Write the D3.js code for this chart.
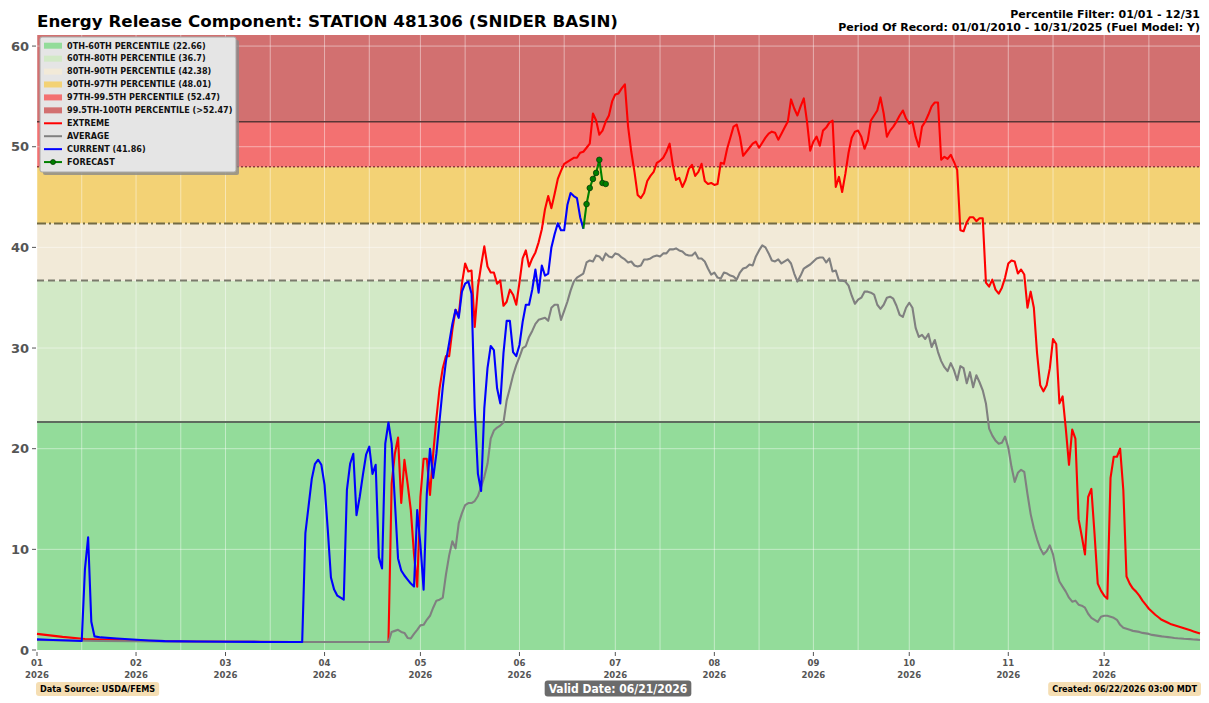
<!DOCTYPE html>
<html>
<head>
<meta charset="utf-8">
<script src="https://cdn.jsdelivr.net/npm/d3@7"></script>
<style>
  html, body { margin: 0; padding: 0; background: #ffffff; }
  svg { display: block; font-family: "DejaVu Sans", sans-serif; }
</style>
</head>
<body>
<svg id="chart" width="1209" height="703"></svg>
<script>
// ---------------- DATA ----------------
const titleText = "Energy Release Component: STATION 481306 (SNIDER BASIN)";
const filterText = "Percentile Filter: 01/01 - 12/31";
const recordText = "Period Of Record: 01/01/2010 - 10/31/2025 (Fuel Model: Y)";
const sourceText = "Data Source: USDA/FEMS";
const validText = "Valid Date: 06/21/2026";
const createdText = "Created: 06/22/2026 03:00 MDT";

const yTicks = [0, 10, 20, 30, 40, 50, 60];
const monthLabels = ["01", "02", "03", "04", "05", "06", "07", "08", "09", "10", "11", "12"];
const yearLabel = "2026";

// percentile thresholds (band upper bounds) and band labels
const percentileBreaks = [22.66, 36.7, 42.38, 48.01, 52.47];
const bandLabels = [
  "0TH-60TH PERCENTILE (22.66)",
  "60TH-80TH PERCENTILE (36.7)",
  "80TH-90TH PERCENTILE (42.38)",
  "90TH-97TH PERCENTILE (48.01)",
  "97TH-99.5TH PERCENTILE (52.47)",
  "99.5TH-100TH PERCENTILE (>52.47)"
];
const lineLabels = ["EXTREME", "AVERAGE", "CURRENT (41.86)", "FORECAST"];

// day offsets from 01/01/2026
const extremeDays = [0, 8, 15, 30, 50, 80, ...d3.range(110, 365)];
const extremeValues = [
  1.6, 1.3, 1.1, 0.95, 0.85, 0.8,
  0.8, 16.5, 19.5, 21.1, 14.6, 18.9, 16.5, 13.9, 9.5, 6.3,
  15.2, 19.0, 19.0, 15.4, 19.5, 23.0, 26.0, 28.0, 29.2, 29.2,
  31.8, 33.8, 33.2, 36.4, 38.4, 37.6, 37.7, 32.1, 36.1, 38.2,
  40.1, 38.1, 37.5, 37.5, 36.4, 36.7, 34.2, 34.6, 35.8, 35.3,
  34.3, 36.5, 38.9, 39.7, 38.1, 38.9, 39.5, 40.5, 41.8, 43.8,
  45.1, 43.9, 45.3, 46.8, 47.6, 48.3, 48.5, 48.7, 48.9, 48.9,
  49.4, 49.5, 49.9, 50.3, 53.3, 52.6, 51.2, 51.6, 52.5, 53.1,
  54.5, 55.2, 55.3, 55.8, 56.2, 52.0, 49.5, 47.5, 45.2, 44.9,
  45.4, 46.6, 47.1, 47.5, 48.4, 48.6, 48.9, 49.5, 50.3, 48.2,
  46.7, 46.9, 46.0, 46.7, 47.8, 48.2, 47.1, 47.5, 48.3, 46.6,
  46.3, 46.4, 46.2, 46.3, 48.4, 48.3, 49.8, 50.9, 52.0, 52.2,
  51.0, 49.1, 49.5, 49.9, 50.3, 50.5, 49.9, 50.4, 50.9, 51.3,
  51.5, 51.4, 50.7, 51.3, 51.9, 52.5, 54.7, 53.8, 53.1, 54.0,
  54.8, 52.5, 49.6, 50.5, 51.0, 50.1, 51.6, 51.9, 52.4, 52.6,
  46.0, 47.0, 45.5, 47.3, 49.4, 50.9, 51.5, 51.6, 51.0, 49.8,
  50.6, 52.6, 53.1, 53.6, 54.9, 53.3, 51.0, 51.6, 52.0, 52.5,
  53.1, 53.6, 52.8, 52.3, 52.5, 51.0, 50.0, 52.0, 52.5, 53.2,
  54.0, 54.4, 54.4, 48.7, 49.0, 48.8, 49.2, 48.5, 47.7, 41.7,
  41.6, 42.5, 43.0, 43.0, 42.6, 42.9, 42.9, 36.5, 36.1, 36.8,
  35.8, 35.4, 36.0, 37.0, 38.4, 38.7, 38.6, 37.4, 37.8, 37.3,
  34.0, 35.6, 34.0, 29.5, 26.3, 25.7, 26.3, 28.0, 30.9, 30.4,
  24.5, 25.2, 22.0, 18.4, 21.9, 21.0, 13.0, 11.3, 9.5, 15.2,
  16.0, 11.5, 6.6, 5.9, 5.4, 5.1, 17.1, 19.2, 19.2, 20.0,
  15.9, 7.3, 6.6, 6.1, 5.8, 5.4, 4.9, 4.5, 4.1, 3.8,
  3.5, 3.25, 3.0, 2.85, 2.7, 2.55, 2.45, 2.35, 2.25, 2.15,
  2.05, 1.95, 1.85, 1.75, 1.65
];

const averageDays = [0, 20, 40, 60, 80, ...d3.range(110, 365)];
const averageValues = [
  1.0, 0.9, 0.85, 0.82, 0.8,
  0.8, 1.8, 1.9, 2.0, 1.8, 1.7, 1.2, 1.15, 1.6, 2.0,
  2.45, 2.5, 3.0, 3.4, 4.2, 4.9, 5.0, 5.2, 7.5, 9.4,
  10.8, 10.1, 12.6, 13.6, 14.4, 14.6, 14.6, 14.8, 15.3, 16.2,
  17.2, 18.5, 21.0, 21.8, 22.1, 22.3, 22.6, 24.8, 26.0, 27.3,
  28.3, 29.1, 30.0, 30.2, 31.1, 31.7, 32.4, 32.8, 32.9, 33.0,
  32.7, 34.0, 34.3, 34.3, 32.8, 33.7, 34.6, 35.7, 36.6, 37.0,
  37.2, 37.4, 38.5, 38.7, 38.6, 39.2, 39.1, 38.7, 39.4, 39.1,
  39.0, 39.4, 39.3, 39.0, 38.8, 38.5, 38.6, 38.2, 38.1, 38.2,
  38.8, 38.8, 38.9, 39.1, 39.2, 39.1, 39.4, 39.4, 39.8, 39.8,
  39.9, 39.7, 39.6, 39.3, 39.2, 39.2, 39.5, 38.9, 38.9, 38.6,
  37.9, 37.3, 37.5, 37.0, 36.9, 37.5, 37.4, 37.2, 37.1, 36.8,
  37.5, 37.9, 38.0, 38.3, 38.2, 39.1, 39.7, 40.2, 40.0, 39.4,
  38.7, 38.6, 38.8, 38.4, 38.6, 38.8, 38.4, 37.4, 36.6, 37.2,
  37.9, 38.1, 38.3, 38.6, 38.9, 39.0, 39.0, 38.5, 38.9, 37.6,
  37.7, 36.7, 36.7, 36.6, 36.2, 35.2, 34.4, 34.8, 35.0, 35.6,
  35.6, 35.5, 35.3, 34.3, 33.9, 34.3, 35.0, 35.1, 34.9, 34.2,
  33.3, 33.1, 34.0, 34.5, 34.0, 32.0, 31.1, 31.3, 30.9, 31.4,
  30.1, 30.8, 29.6, 28.7, 28.1, 27.7, 28.5, 27.8, 26.8, 28.2,
  28.0, 26.5, 27.6, 26.1, 27.3, 26.6, 25.8, 24.5, 22.0, 21.3,
  20.8, 20.5, 20.6, 21.2, 20.1, 18.2, 16.7, 17.6, 17.9, 17.7,
  15.5, 13.5, 12.1, 11.0, 10.1, 9.5, 9.8, 10.4, 9.5, 7.9,
  6.8, 6.3, 5.8, 5.2, 4.8, 4.9, 4.5, 4.4, 4.2, 3.6,
  3.2, 3.0, 2.8, 3.3, 3.4, 3.4, 3.3, 3.2, 3.0, 2.5,
  2.2, 2.1, 2.0, 1.9, 1.85, 1.8, 1.7, 1.65, 1.6, 1.5,
  1.45, 1.4, 1.35, 1.32, 1.28, 1.24, 1.2, 1.17, 1.15, 1.12,
  1.1, 1.08, 1.05, 1.03, 1.0
];

const currentDays = [0, 5, 10, 14, 15, 16, 17, 18, 20, 25, 30, 35, 40, 50, 60, 70, 82, ...d3.range(83, 172)];
const currentValues = [
  1.06, 1.0, 0.95, 0.9, 8.0, 11.2, 2.8, 1.35, 1.25, 1.15, 1.05, 0.95, 0.88, 0.84, 0.82, 0.8, 0.8,
  0.8, 11.6, 14.3, 17.0, 18.5, 18.9, 18.4,
  16.4, 12.0, 7.2, 6.0, 5.4, 5.2, 5.0, 15.9, 18.5, 19.5,
  13.4, 15.2, 17.4, 19.4, 20.2, 17.5, 18.4, 9.2, 8.1, 20.5,
  22.6, 20.5, 14.8, 9.1, 7.9, 7.4, 7.0, 6.6, 6.3, 13.9,
  10.5, 6.0, 15.5, 20.0, 17.1, 19.5, 22.8, 26.1, 28.7, 30.5,
  32.4, 33.8, 33.0, 35.6, 36.4, 36.6, 35.4, 24.0, 17.5, 15.8,
  24.0, 28.0, 30.2, 29.8, 26.0, 24.5, 29.5, 32.7, 32.7, 29.6,
  29.2, 30.3, 32.6, 34.3, 34.3, 35.8, 37.8, 35.5, 38.2, 37.2,
  37.4, 40.0, 41.3, 42.4, 41.7, 41.7, 44.2, 45.4, 45.1, 44.9,
  43.0, 41.86
];

const forecastDays = [171, 172, 173, 174, 175, 176, 177, 178];
const forecastValues = [41.86, 44.3, 45.9, 46.8, 47.4, 48.7, 46.4, 46.3];

// ---------------- STYLE ----------------
const bandColors = ["#93dc9a", "#d2e9c6", "#f2ead8", "#f3d275", "#f37171", "#d27070"];
const colExtreme = "#ff0000", colAverage = "#808080", colCurrent = "#0000ff", colForecast = "#008000";

const W = 1209, H = 703;
const margin = { left: 37, right: 9, top: 35, bottom: 53 };
const plotL = margin.left, plotR = W - margin.right, plotT = margin.top, plotB = H - margin.bottom;

const svg = d3.select("#chart");
const DAY = 864e5;
const t0 = Date.UTC(2026, 0, 1);
const toDate = d => new Date(t0 + d * DAY);

const x = d3.scaleUtc().domain([toDate(0), toDate(364)]).range([plotL, plotR]);
const y = d3.scaleLinear().domain([0, 61.1]).range([plotB, plotT]);

// ---------------- BANDS ----------------
const bandEdges = [0, ...percentileBreaks, 61.1];
const g = svg.append("g");
bandColors.forEach((c, i) => {
  g.append("rect")
    .attr("x", plotL).attr("width", plotR - plotL)
    .attr("y", y(bandEdges[i + 1])).attr("height", y(bandEdges[i]) - y(bandEdges[i + 1]))
    .attr("fill", c);
});

// ---------------- GRID ----------------
const monthStarts = d3.range(0, 12).map(m => new Date(Date.UTC(2026, m, 1)));
const midMonths = d3.range(0, 12).map(m => new Date(Date.UTC(2026, m, 15)));
g.selectAll(".vgrid").data([...monthStarts, ...midMonths]).enter().append("line")
  .attr("x1", d => x(d)).attr("x2", d => x(d))
  .attr("y1", plotT).attr("y2", plotB)
  .attr("stroke", "#ffffff").attr("stroke-opacity", 0.45).attr("stroke-width", 1);
g.selectAll(".hgrid").data(yTicks.filter(v => v > 0)).enter().append("line")
  .attr("x1", plotL).attr("x2", plotR)
  .attr("y1", d => y(d)).attr("y2", d => y(d))
  .attr("stroke", "#ffffff").attr("stroke-opacity", 0.45).attr("stroke-width", 1);

// ---------------- THRESHOLD LINES ----------------
const thrStyles = [
  { c: "#5e6b5e", w: 2, dash: null },
  { c: "#7a7a6c", w: 2, dash: "7,4" },
  { c: "#736b45", w: 2, dash: "9,3,2,3" },
  { c: "#8e3a3a", w: 1.5, dash: "2,2" },
  { c: "#5a3636", w: 1.5, dash: null }
];
percentileBreaks.forEach((v, i) => {
  const s = thrStyles[i];
  g.append("line")
    .attr("x1", plotL).attr("x2", plotR)
    .attr("y1", y(v)).attr("y2", y(v))
    .attr("stroke", s.c).attr("stroke-width", s.w)
    .attr("stroke-dasharray", s.dash);
});

// ---------------- SERIES ----------------
const line = d3.line().x(d => x(toDate(d[0]))).y(d => y(d[1]));
function drawSeries(days, vals, color, w) {
  const pts = days.map((d, i) => [d, vals[i]]);
  svg.append("path").datum(pts)
    .attr("d", line).attr("fill", "none")
    .attr("stroke", color).attr("stroke-width", w)
    .attr("stroke-linejoin", "round");
  return pts;
}
drawSeries(extremeDays, extremeValues, colExtreme, 2.1);
drawSeries(averageDays, averageValues, colAverage, 2.1);
drawSeries(currentDays, currentValues, colCurrent, 2.1);
const fpts = drawSeries(forecastDays, forecastValues, colForecast, 2.1);
svg.selectAll(".fmark").data(fpts.slice(1)).enter().append("circle")
  .attr("cx", d => x(toDate(d[0]))).attr("cy", d => y(d[1])).attr("r", 2.8)
  .attr("fill", colForecast).attr("stroke", "#0a3a0a").attr("stroke-width", 0.8);

// ---------------- AXES ----------------
const yAxis = svg.append("g");
yTicks.forEach(v => {
  yAxis.append("line").attr("x1", plotL - 5).attr("x2", plotL - 1)
    .attr("y1", y(v)).attr("y2", y(v)).attr("stroke", "#555").attr("stroke-width", 1);
  yAxis.append("text").attr("x", plotL - 8).attr("y", y(v)).attr("dy", "0.36em")
    .attr("text-anchor", "end").attr("font-size", 13).attr("font-weight", "bold")
    .attr("fill", "#555").text(v);
});
const xAxis = svg.append("g");
monthStarts.forEach((d, i) => {
  const xx = x(d);
  xAxis.append("line").attr("x1", xx).attr("x2", xx).attr("y1", plotB + 2).attr("y2", plotB + 6)
    .attr("stroke", "#555").attr("stroke-width", 1);
  const t = xAxis.append("text").attr("text-anchor", "middle").attr("font-size", 9.5)
    .attr("fill", "#555").attr("font-weight", "bold").style("font-stretch", "condensed");
  t.append("tspan").attr("x", xx).attr("y", plotB + 16).text(monthLabels[i]);
  t.append("tspan").attr("x", xx).attr("y", plotB + 28).text(yearLabel);
});

// ---------------- TITLES ----------------
svg.append("text").attr("x", 37).attr("y", 27).attr("font-size", 16.7).attr("font-weight", "bold")
  .attr("fill", "#000").text(titleText);
svg.append("text").attr("x", 1200).attr("y", 18).attr("text-anchor", "end").attr("font-size", 11)
  .attr("font-weight", "bold").attr("fill", "#000").text(filterText);
svg.append("text").attr("x", 1200).attr("y", 30.5).attr("text-anchor", "end").attr("font-size", 11)
  .attr("font-weight", "bold").attr("fill", "#000").text(recordText);

// ---------------- LEGEND ----------------
const lg = svg.append("g");
lg.append("rect").attr("x", 43).attr("y", 40).attr("width", 196).attr("height", 135)
  .attr("rx", 2).attr("fill", "#8a8a8a").attr("opacity", 0.8);
lg.append("rect").attr("x", 40).attr("y", 37).attr("width", 196).attr("height", 135)
  .attr("rx", 2).attr("fill", "#e5e5e5").attr("stroke", "#a8a8a8").attr("stroke-width", 1);
const rowY = i => 45.7 + i * 12.93;
bandLabels.forEach((lab, i) => {
  lg.append("rect").attr("x", 44).attr("y", rowY(i) - 3).attr("width", 18).attr("height", 6)
    .attr("fill", bandColors[i]);
  lg.append("text").attr("x", 67).attr("y", rowY(i)).attr("dy", "0.35em").attr("font-size", 8.1)
    .attr("font-weight", "bold").attr("fill", "#111").text(lab);
});
const lineCols = [colExtreme, colAverage, colCurrent, colForecast];
lineLabels.forEach((lab, j) => {
  const i = j + 6;
  lg.append("line").attr("x1", 44).attr("x2", 62).attr("y1", rowY(i)).attr("y2", rowY(i))
    .attr("stroke", lineCols[j]).attr("stroke-width", 2);
  if (j === 3) {
    lg.append("circle").attr("cx", 53).attr("cy", rowY(i)).attr("r", 2.5)
      .attr("fill", colForecast).attr("stroke", "#0a3a0a").attr("stroke-width", 0.8);
  }
  lg.append("text").attr("x", 67).attr("y", rowY(i)).attr("dy", "0.35em").attr("font-size", 8.1)
    .attr("font-weight", "bold").attr("fill", "#111").text(lab);
});

// ---------------- FOOTER BOXES ----------------
function box(txt, xPos, anchor, fill, color, fs, yMid, h) {
  const t = svg.append("text").attr("y", yMid).attr("dy", "0.35em").attr("font-size", fs)
    .attr("font-weight", "bold").attr("fill", color).style("font-stretch", "condensed").text(txt);
  const w = t.node().getComputedTextLength();
  let left = anchor === "start" ? xPos : anchor === "end" ? xPos - w : xPos - w / 2;
  t.attr("x", left);
  svg.insert("rect", () => t.node())
    .attr("x", left - 4).attr("y", yMid - h / 2).attr("width", w + 8).attr("height", h)
    .attr("rx", 3).attr("fill", fill);
}
box(sourceText, 40, "start", "#f5deb3", "#000", 9, 689, 14);
box(validText, 618, "middle", "#6b6b6b", "#fff", 12, 688.5, 16);
box(createdText, 1197, "end", "#f5deb3", "#000", 9, 689, 14);
</script>
</body>
</html>
